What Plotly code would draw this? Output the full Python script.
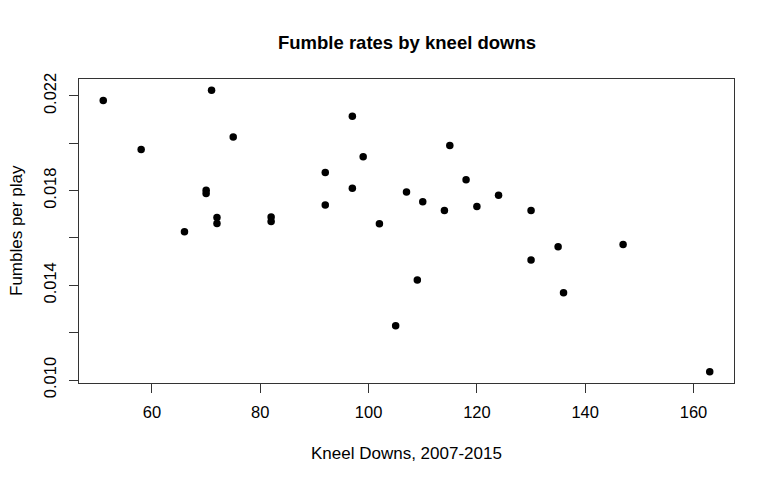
import plotly.graph_objects as go

# Data (one point per team)
kneel_downs = [51, 71, 58, 75, 70, 70, 72, 72, 82, 82, 66,
               97, 99, 92, 97, 92, 102, 115, 107, 110, 114, 118,
               120, 124, 130, 135, 130, 147, 136, 163, 105, 109]
fumble_rate = [0.02181, 0.02224, 0.01974, 0.02027, 0.01802, 0.01788, 0.01687, 0.01661, 0.01689, 0.01670, 0.01626,
               0.02114, 0.01943, 0.01877, 0.01810, 0.01739, 0.01660, 0.01991, 0.01794, 0.01753, 0.01716, 0.01846,
               0.01733, 0.01781, 0.01716, 0.01563, 0.01507, 0.01573, 0.01369, 0.01035, 0.01229, 0.01422]

x_ticks = [60, 80, 100, 120, 140, 160]
y_ticks = [0.010, 0.012, 0.014, 0.016, 0.018, 0.020, 0.022]
y_ticktext = ["0.010", "", "0.014", "", "0.018", "", "0.022"]

title_text = "Fumble rates by kneel downs"
x_label = "Kneel Downs, 2007-2015"
y_label = "Fumbles per play"

def r_range(v):
    lo, hi = min(v), max(v)
    pad = (hi - lo) * 0.04
    return [lo - pad, hi + pad]

FONT = "Liberation Sans, Arial, Helvetica, sans-serif"
AX = "#333333"

fig = go.Figure(go.Scatter(
    x=kneel_downs, y=fumble_rate, mode="markers",
    marker=dict(color="black", size=7.5),
    hoverinfo="x+y",
))

fig.update_layout(
    width=775, height=481,
    margin=dict(l=79, r=41, t=79, b=98),
    paper_bgcolor="white", plot_bgcolor="white",
    showlegend=False,
    font=dict(family=FONT, color="black"),
    xaxis=dict(range=r_range(kneel_downs), tickvals=x_ticks,
               ticks="outside", ticklen=9, tickcolor=AX, tickwidth=1,
               showline=True, linecolor=AX, linewidth=1, mirror=True,
               showgrid=False, zeroline=False,
               tickfont=dict(size=16.5, family=FONT, color="black"),
               ticklabelstandoff=5),
    yaxis=dict(range=r_range(fumble_rate), tickvals=y_ticks, ticktext=y_ticktext,
               ticks="outside", ticklen=9, tickcolor=AX, tickwidth=1,
               showline=True, linecolor=AX, linewidth=1, mirror=True,
               showgrid=False, zeroline=False, tickangle=-90,
               tickfont=dict(size=16.5, family=FONT, color="black"),
               ticklabelstandoff=6),
    annotations=[
        dict(text="<b>" + title_text + "</b>", xref="paper", yref="paper", x=0.5, y=1,
             yshift=37, xanchor="center", yanchor="middle", showarrow=False,
             font=dict(size=18.5, family=FONT, color="black")),
        dict(text=x_label, xref="paper", yref="paper", x=0.5, y=0,
             yshift=-70, xanchor="center", yanchor="middle", showarrow=False,
             font=dict(size=17, family=FONT, color="black")),
        dict(text=y_label, xref="paper", yref="paper", x=0, y=0.5,
             xshift=-63, xanchor="center", yanchor="middle", showarrow=False,
             textangle=-90, font=dict(size=17, family=FONT, color="black")),
    ],
)

fig.write_html("out.html", config={"displayModeBar": False},
               post_script="document.body.style.margin='0';")
